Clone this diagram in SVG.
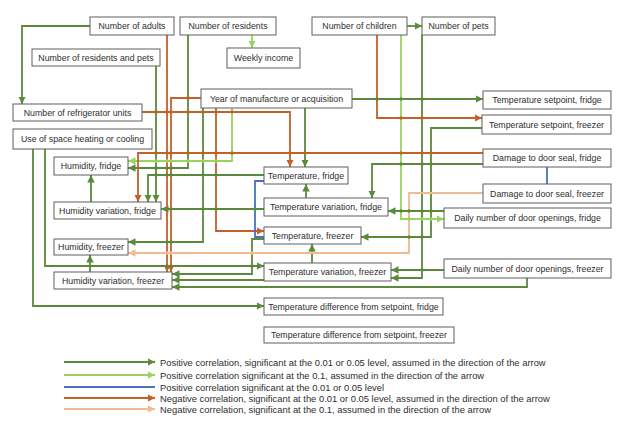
<svg xmlns="http://www.w3.org/2000/svg" width="630" height="430" viewBox="0 0 630 430">
<style>
.n rect{fill:#fff;stroke:#5f5f5f;stroke-width:1}
.n text,.lg text{font-family:"Liberation Sans",Arial,sans-serif;font-size:8.8px;fill:#2e2e2e;text-anchor:middle}
.lg text{text-anchor:start;font-size:9.4px}
.c path{fill:none;stroke-width:1.8}
.dg{stroke:#5b8a3c;marker-end:url(#adg)}
.lgn{stroke:#9ad360;marker-end:url(#algn)}
.br{stroke:#c0622a;marker-end:url(#abr)}
.pc{stroke:#f3b98f;marker-end:url(#apc)}
.bl{stroke:#4a72c0}
.d .g{fill:#5b8a3c}
.d .b{fill:#c0622a}
.d .l{fill:#9ad360}
.d .p{fill:#f3b98f}
</style>
<defs>
<marker id="adg" viewBox="0 0 10 10" refX="10" refY="5" markerWidth="7.5" markerHeight="7.5" markerUnits="userSpaceOnUse" orient="auto"><path d="M0,0 L10,5 L0,10 z" fill="#5b8a3c"/></marker>
<marker id="algn" viewBox="0 0 10 10" refX="10" refY="5" markerWidth="7.5" markerHeight="7.5" markerUnits="userSpaceOnUse" orient="auto"><path d="M0,0 L10,5 L0,10 z" fill="#9ad360"/></marker>
<marker id="abr" viewBox="0 0 10 10" refX="10" refY="5" markerWidth="7.5" markerHeight="7.5" markerUnits="userSpaceOnUse" orient="auto"><path d="M0,0 L10,5 L0,10 z" fill="#c0622a"/></marker>
<marker id="apc" viewBox="0 0 10 10" refX="10" refY="5" markerWidth="7.5" markerHeight="7.5" markerUnits="userSpaceOnUse" orient="auto"><path d="M0,0 L10,5 L0,10 z" fill="#f3b98f"/></marker>
</defs>
<rect width="630" height="430" fill="#fff"/>

<g id="connectors" class="c">
<path class="dg" d="M90,26 H22 V104"/>
<path class="dg" d="M407,26 H422"/>
<path class="dg" d="M352,99 H483"/>
<path class="dg" d="M305,108 V167"/>
<path class="dg" d="M203,108 V242 H128"/>
<path class="dg" d="M188,35 V168 H128"/>
<path class="dg" d="M156,66 V202"/>
<path class="dg" d="M264,175 H148 V202"/>
<path class="dg" d="M264,209 H161"/>
<path class="dg" d="M91,202 V175"/>
<path class="dg" d="M90,272 V255"/>
<path class="dg" d="M306,198 V184"/>
<path class="dg" d="M312,263 V244"/>
<path class="dg" d="M483,164 H372 V198"/>
<path class="dg" d="M482,128 H431 V237 H361"/>
<path class="dg" d="M444,211 H388"/>
<path class="dg" d="M444,270 H391"/>
<path class="dg" d="M422,35 V278 H391"/>
<path class="dg" d="M527,278 V287 H172"/>
<path class="dg" d="M264,239 H252 V274 H172"/>
<path class="dg" d="M264,280 H172"/>
<path class="dg" d="M45,149 V266 H264"/>
<path class="dg" d="M33,149 V306 H264"/>
<path class="lgn" d="M252,35 V48"/>
<path class="lgn" d="M232,108 V161 H128"/>
<path class="lgn" d="M401,35 V219 H444"/>
<path class="br" d="M167,35 V272"/>
<path class="br" d="M201,98 H171 V272"/>
<path class="br" d="M142,112 H290 V167"/>
<path class="br" d="M216,108 V231 H264"/>
<path class="br" d="M377,35 V118 H482"/>
<path class="br" d="M483,153 H138 V202"/>
<path class="pc" d="M483,193 H409 V253 H128"/>
<path class="bl" d="M264,181 H255 V237 H264"/>
<path class="bl" d="M547,167 V184"/>
<g class="d">
<circle class="b" r="1.8" cx="156" cy="112"/><circle class="b" r="1.8" cx="167" cy="112"/><circle class="b" r="1.8" cx="171" cy="112"/><circle class="b" r="1.8" cx="188" cy="112"/><circle class="b" r="1.8" cx="203" cy="112"/><circle class="b" r="1.8" cx="216" cy="112"/><circle class="b" r="1.8" cx="232" cy="112"/>
<circle class="b" r="1.8" cx="188" cy="98"/>
<circle class="g" r="1.8" cx="377" cy="99"/><circle class="g" r="1.8" cx="401" cy="99"/><circle class="g" r="1.8" cx="422" cy="99"/>
<circle class="b" r="1.8" cx="401" cy="118"/><circle class="b" r="1.8" cx="422" cy="118"/>
<circle class="b" r="1.8" cx="156" cy="153"/><circle class="b" r="1.8" cx="167" cy="153"/><circle class="b" r="1.8" cx="171" cy="153"/><circle class="b" r="1.8" cx="188" cy="153"/><circle class="b" r="1.8" cx="203" cy="153"/><circle class="b" r="1.8" cx="216" cy="153"/><circle class="b" r="1.8" cx="232" cy="153"/><circle class="b" r="1.8" cx="290" cy="153"/><circle class="b" r="1.8" cx="305" cy="153"/><circle class="b" r="1.8" cx="401" cy="153"/><circle class="b" r="1.8" cx="422" cy="153"/><circle class="b" r="1.8" cx="431" cy="153"/>
<circle class="g" r="1.8" cx="401" cy="164"/><circle class="g" r="1.8" cx="422" cy="164"/><circle class="g" r="1.8" cx="431" cy="164"/>
<circle class="l" r="1.8" cx="156" cy="161"/><circle class="l" r="1.8" cx="167" cy="161"/><circle class="l" r="1.8" cx="171" cy="161"/><circle class="l" r="1.8" cx="188" cy="161"/><circle class="l" r="1.8" cx="203" cy="161"/><circle class="l" r="1.8" cx="216" cy="161"/>
<circle class="g" r="1.8" cx="156" cy="168"/><circle class="g" r="1.8" cx="167" cy="168"/><circle class="g" r="1.8" cx="171" cy="168"/>
<circle class="g" r="1.8" cx="156" cy="175"/><circle class="g" r="1.8" cx="167" cy="175"/><circle class="g" r="1.8" cx="171" cy="175"/><circle class="g" r="1.8" cx="203" cy="175"/><circle class="g" r="1.8" cx="216" cy="175"/>
<circle class="g" r="1.8" cx="167" cy="209"/><circle class="g" r="1.8" cx="171" cy="209"/><circle class="g" r="1.8" cx="203" cy="209"/><circle class="g" r="1.8" cx="216" cy="209"/><circle class="g" r="1.8" cx="255" cy="209"/>
<circle class="g" r="1.8" cx="401" cy="211"/><circle class="g" r="1.8" cx="409" cy="211"/><circle class="g" r="1.8" cx="422" cy="211"/><circle class="g" r="1.8" cx="431" cy="211"/>
<circle class="l" r="1.8" cx="409" cy="219"/><circle class="l" r="1.8" cx="422" cy="219"/><circle class="l" r="1.8" cx="431" cy="219"/>
<circle class="g" r="1.8" cx="409" cy="237"/><circle class="g" r="1.8" cx="422" cy="237"/>
<circle class="g" r="1.8" cx="167" cy="242"/><circle class="g" r="1.8" cx="171" cy="242"/>
<circle class="p" r="1.8" cx="167" cy="253"/><circle class="p" r="1.8" cx="171" cy="253"/><circle class="p" r="1.8" cx="252" cy="253"/>
<circle class="g" r="1.8" cx="167" cy="266"/><circle class="g" r="1.8" cx="171" cy="266"/><circle class="g" r="1.8" cx="252" cy="266"/>
<circle class="g" r="1.8" cx="422" cy="270"/>
</g>
</g>

<g id="adults" class="n"><rect x="90" y="17" width="84" height="18"/><text x="132" y="29">Number of adults</text></g>
<g id="residents" class="n"><rect x="180" y="17" width="96" height="18"/><text x="228" y="29">Number of residents</text></g>
<g id="weekly-income" class="n"><rect x="227" y="48" width="73" height="20"/><text x="263.5" y="61">Weekly income</text></g>
<g id="children" class="n"><rect x="312" y="17" width="95" height="18"/><text x="359.5" y="29">Number of children</text></g>
<g id="pets" class="n"><rect x="422" y="17" width="73" height="18"/><text x="458.5" y="29">Number of pets</text></g>
<g id="residents-pets" class="n"><rect x="32" y="49" width="128" height="17"/><text x="96" y="60.5">Number of residents and pets</text></g>
<g id="fridge-units" class="n"><rect x="13" y="104" width="129" height="17"/><text x="77.5" y="115.5">Number of refrigerator units</text></g>
<g id="space-heating" class="n"><rect x="13" y="129" width="139" height="20"/><text x="82.5" y="141.5">Use of space heating or cooling</text></g>
<g id="year" class="n"><rect x="201" y="89" width="151" height="19"/><text x="276.5" y="101.5">Year of manufacture or acquisition</text></g>
<g id="setpoint-fridge" class="n"><rect x="483" y="91" width="128" height="18"/><text x="547" y="103">Temperature setpoint, fridge</text></g>
<g id="setpoint-freezer" class="n"><rect x="482" y="115" width="129" height="19"/><text x="546.5" y="127.5">Temperature setpoint, freezer</text></g>
<g id="seal-fridge" class="n"><rect x="483" y="149" width="128" height="18"/><text x="547" y="161">Damage to door seal, fridge</text></g>
<g id="seal-freezer" class="n"><rect x="483" y="184" width="128" height="19"/><text x="547" y="196.5">Damage to door seal, freezer</text></g>
<g id="openings-fridge" class="n"><rect x="444" y="208" width="167" height="20"/><text x="527.5" y="221">Daily number of door openings, fridge</text></g>
<g id="openings-freezer" class="n"><rect x="444" y="259" width="167" height="19"/><text x="527.5" y="271.5">Daily number of door openings, freezer</text></g>
<g id="humidity-fridge" class="n"><rect x="54" y="157" width="74" height="18"/><text x="91" y="169">Humidity, fridge</text></g>
<g id="humidity-var-fridge" class="n"><rect x="54" y="202" width="107" height="17"/><text x="107.5" y="213.5">Humidity variation, fridge</text></g>
<g id="humidity-freezer" class="n"><rect x="54" y="239" width="74" height="16"/><text x="91" y="250">Humidity, freezer</text></g>
<g id="humidity-var-freezer" class="n"><rect x="54" y="272" width="118" height="17"/><text x="113" y="283.5">Humidity variation, freezer</text></g>
<g id="temp-fridge" class="n"><rect x="264" y="167" width="84" height="17"/><text x="306" y="178.5">Temperature, fridge</text></g>
<g id="temp-var-fridge" class="n"><rect x="264" y="198" width="124" height="18"/><text x="326" y="210">Temperature variation, fridge</text></g>
<g id="temp-freezer" class="n"><rect x="264" y="227" width="97" height="17"/><text x="312.5" y="238.5">Temperature, freezer</text></g>
<g id="temp-var-freezer" class="n"><rect x="264" y="263" width="127" height="18"/><text x="327.5" y="275">Temperature variation, freezer</text></g>
<g id="temp-diff-fridge" class="n"><rect x="264" y="298" width="179" height="17"/><text x="353.5" y="309.5">Temperature difference from setpoint, fridge</text></g>
<g id="temp-diff-freezer" class="n"><rect x="264" y="327" width="190" height="16"/><text x="359" y="338">Temperature difference from setpoint, freezer</text></g>

<g id="legend" class="lg c">
<path class="dg" d="M64,362 H155"/>
<path class="lgn" d="M64,375 H155"/>
<path class="bl" d="M64,387 H155"/>
<path class="br" d="M64,398 H155"/>
<path class="pc" d="M64,409 H155"/>
<text x="160" y="365.5">Positive correlation, significant at the 0.01 or 0.05 level, assumed in the direction of the arrow</text>
<text x="160" y="378.5">Positive correlation significant at the 0.1, assumed in the direction of the arrow</text>
<text x="160" y="390.5">Positive correlation significant at the 0.01 or 0.05 level</text>
<text x="160" y="401.5">Negative correlation, significant at the 0.01 or 0.05 level, assumed in the direction of the arrow</text>
<text x="160" y="412.5">Negative correlation, significant at the 0.1, assumed in the direction of the arrow</text>
</g>
</svg>
